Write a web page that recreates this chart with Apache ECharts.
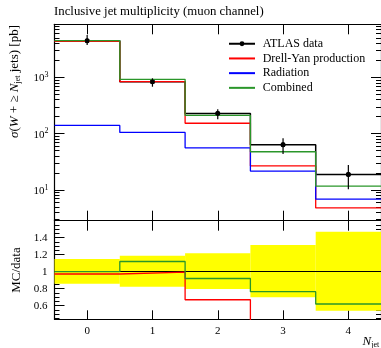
<!DOCTYPE html>
<html>
<head>
<meta charset="utf-8">
<script src="https://cdn.jsdelivr.net/npm/echarts@6/dist/echarts.min.js"></script>
<style>
html,body{margin:0;padding:0;background:#fff;}
#chart{width:381px;height:348px;}
</style>
</head>
<body>
<div id="chart"></div>
<script>
// ---- data ----
const nJet = [0, 1, 2, 3, 4];
const atlasData = [4450, 830, 228, 63.5, 18.9];
const atlasErrLow = [3750, 681, 180, 43.4, 10.3];
const atlasErrHigh = [5640, 960, 270, 82.6, 27.7];
const drellYan = [4340, 836, 153, 26.9, 4.8];
const radiation = [140, 105, 56, 21.7, 6.9];
const combined = [4480, 921, 211, 47.7, 11.7];

const ratioDrellYan = [0.973, 0.996, 0.67, 0.42, 0.25];
const ratioCombined = [1.0, 1.12, 0.92, 0.765, 0.62];
const bandLow = [0.859, 0.824, 0.796, 0.699, 0.541];
const bandHigh = [1.149, 1.188, 1.216, 1.314, 1.47];

const xTickLabels = [0, 1, 2, 3, 4];
const logMajorTicks = [10, 100, 1000];
const logMinorTicks = [3,4,5,6,7,8,9,20,30,40,50,60,70,80,90,200,300,400,500,600,700,800,900,2000,3000,4000,5000,6000,7000,8000];
const ratioMajorTicks = [0.6, 0.8, 1, 1.2, 1.4];
const ratioMinorTicks = [0.45,0.5,0.55,0.65,0.7,0.75,0.85,0.9,0.95,1.05,1.1,1.15,1.25,1.3,1.35,1.45,1.5,1.55];

const FONT = 'Liberation Serif';
const X_MIN = -0.5, X_MAX = 4.5;
const Y_MIN = 2.85, Y_MAX = 8730;
const R_MIN = 0.44, R_MAX = 1.6;

function stepPoints(vals, withCenters) {
  const pts = [];
  vals.forEach((v, i) => {
    const c = nJet[i];
    pts.push({value: [c - 0.5, v], symbol: 'none'});
    if (withCenters) pts.push({value: [c, v]});
    pts.push({value: [c + 0.5, v], symbol: 'none'});
  });
  return pts;
}

const chart = echarts.init(document.getElementById('chart'), null, {renderer: 'canvas'});

const grids = [
  {left: 54.5, right: -2.5, top: 24.3, height: 196.4},
  {left: 54.5, right: -2.5, top: 220.7, height: 98.6}
];

function xAxis(gridIndex, position, tickLen, showLabel) {
  return {
    type: 'value', gridIndex, position, min: X_MIN, max: X_MAX,
    axisLine: {show: true, onZero: false, lineStyle: {color: '#000', width: 1.2}},
    axisTick: {show: true, inside: true, length: tickLen, customValues: xTickLabels, lineStyle: {color: '#000', width: 1}},
    axisLabel: {show: showLabel, customValues: xTickLabels, margin: 6, color: '#000', fontFamily: FONT, fontSize: 11},
    splitLine: {show: false}
  };
}

function logAxis(position, ticks, tickLen, showLine, showLabel) {
  return {
    type: 'log', gridIndex: 0, position, min: Y_MIN, max: Y_MAX, logBase: 10,
    axisLine: {show: showLine, onZero: false, lineStyle: {color: '#000', width: 1.2}},
    axisTick: {show: true, inside: true, length: tickLen, customValues: ticks, lineStyle: {color: '#000', width: 1}},
    axisLabel: {
      show: showLabel, customValues: ticks, margin: 6,
      formatter: v => '{b|10}{s|' + Math.round(Math.log10(v)) + '}',
      rich: {
        b: {fontFamily: FONT, fontSize: 11, color: '#000', verticalAlign: 'bottom'},
        s: {fontFamily: FONT, fontSize: 8, color: '#000', verticalAlign: 'bottom', padding: [0, 0, 5, 0]}
      }
    },
    minorTick: {show: false},
    splitLine: {show: false}
  };
}

function ratioAxis(position, ticks, tickLen, showLine, showLabel, name) {
  return {
    type: 'value', gridIndex: 1, position, min: R_MIN, max: R_MAX,
    name: name || '', nameLocation: 'middle', nameGap: 29,
    nameTextStyle: {fontFamily: FONT, fontSize: 13, color: '#000'},
    axisLine: {show: showLine, onZero: false, lineStyle: {color: '#000', width: 1.2}},
    axisTick: {show: true, inside: true, length: tickLen, customValues: ticks, lineStyle: {color: '#000', width: 1}},
    axisLabel: {show: showLabel, customValues: ticks, margin: 7, color: '#000', fontFamily: FONT, fontSize: 11},
    splitLine: {show: false}
  };
}

const option = {
  animation: false,
  backgroundColor: '#fff',
  title: {
    text: 'Inclusive jet multiplicity (muon channel)',
    left: 54, top: 5, padding: 0,
    textStyle: {fontFamily: FONT, fontSize: 12.8, fontWeight: 'normal', color: '#000'}
  },
  legend: {
    orient: 'vertical', left: 228, top: 36.4, padding: 0,
    itemWidth: 26, itemHeight: 6, itemGap: 0,
    selectedMode: false,
    data: [
      {name: 'ATLAS data'},
      {name: 'Drell-Yan production', itemStyle: {opacity: 0}},
      {name: 'Radiation', itemStyle: {opacity: 0}},
      {name: 'Combined', itemStyle: {opacity: 0}}
    ],
    textStyle: {fontFamily: FONT, fontSize: 12, color: '#000', lineHeight: 14.7, padding: [0, 0, 0, 2.7]}
  },
  grid: grids,
  xAxis: [
    xAxis(0, 'bottom', 10, false),
    xAxis(0, 'top', 10, false),
    xAxis(1, 'bottom', 9, true),
    xAxis(1, 'top', 10, false)
  ],
  yAxis: [
    logAxis('left', logMajorTicks, 10, true, true),
    logAxis('left', logMinorTicks, 5, false, false),
    logAxis('right', logMajorTicks, 10, true, false),
    logAxis('right', logMinorTicks, 5, false, false),
    ratioAxis('left', ratioMajorTicks, 10, true, true, 'MC/data'),
    ratioAxis('left', ratioMinorTicks, 5, false, false),
    ratioAxis('right', ratioMajorTicks, 10, true, false),
    ratioAxis('right', ratioMinorTicks, 5, false, false)
  ],
  graphic: [
    {
      type: 'text', x: 15, y: 25, rotation: Math.PI / 2, z: 10,
      style: {
        text: '{i|σ}{n|(}{i|W}{n| + ≥ }{i|N}{sub|jet}{n| jets) [pb]}',
        align: 'right', verticalAlign: 'middle',
        rich: {
          n: {fontFamily: FONT, fontSize: 13, fill: '#000'},
          i: {fontFamily: FONT, fontSize: 13, fontStyle: 'italic', fill: '#000'},
          sub: {fontFamily: FONT, fontSize: 8, fill: '#000', padding: [5, 0, 0, 0]}
        }
      }
    },
    {
      type: 'text', x: 362.5, y: 342, z: 10,
      style: {
        text: '{i|N}{sub|jet}',
        align: 'left', verticalAlign: 'middle',
        rich: {
          i: {fontFamily: FONT, fontSize: 13, fontStyle: 'italic', fill: '#000'},
          sub: {fontFamily: FONT, fontSize: 8, fill: '#000', padding: [5, 0, 0, 0]}
        }
      }
    }
  ],
  series: [
    {
      name: 'ATLAS data', type: 'line', xAxisIndex: 0, yAxisIndex: 0,
      data: stepPoints(atlasData, true), symbol: 'circle', symbolSize: 5,
      itemStyle: {color: '#000'}, lineStyle: {color: '#000', width: 1.5}, z: 2
    },
    {
      name: 'Drell-Yan production', type: 'line', xAxisIndex: 0, yAxisIndex: 0,
      data: stepPoints(drellYan, false), symbol: 'none',
      itemStyle: {color: '#ff0000'}, lineStyle: {color: '#ff0000', width: 1.3}, z: 3
    },
    {
      name: 'Radiation', type: 'line', xAxisIndex: 0, yAxisIndex: 0,
      data: stepPoints(radiation, false), symbol: 'none',
      itemStyle: {color: '#0000ff'}, lineStyle: {color: '#0000ff', width: 1.3}, z: 3
    },
    {
      name: 'Combined', type: 'line', xAxisIndex: 0, yAxisIndex: 0,
      data: stepPoints(combined, false), symbol: 'none',
      itemStyle: {color: '#2a962a'}, lineStyle: {color: '#2a962a', width: 1.3}, z: 4
    },
    {
      name: 'data points', type: 'custom', xAxisIndex: 0, yAxisIndex: 0, z: 6,
      data: nJet.map((c, i) => [c, atlasData[i], atlasErrLow[i], atlasErrHigh[i]]),
      encode: {x: 0, y: 1},
      renderItem: (params, api) => {
        const p = api.coord([api.value(0), api.value(1)]);
        const lo = api.coord([api.value(0), api.value(2)]);
        const hi = api.coord([api.value(0), api.value(3)]);
        return {type: 'group', children: [
          {type: 'line', shape: {x1: p[0], y1: lo[1], x2: p[0], y2: hi[1]}, style: {stroke: '#000', lineWidth: 1.2}},
          {type: 'circle', shape: {cx: p[0], cy: p[1], r: 2.4}, style: {fill: '#000'}}
        ]};
      }
    },
    {
      name: 'band', type: 'custom', xAxisIndex: 2, yAxisIndex: 4, z: 1,
      data: nJet.map((c, i) => [c, bandLow[i], bandHigh[i]]),
      encode: {x: 0, y: [1, 2]},
      renderItem: (params, api) => {
        const a = api.coord([api.value(0) - 0.5, api.value(2)]);
        const b = api.coord([api.value(0) + 0.5, api.value(1)]);
        return {type: 'rect', shape: {x: a[0], y: a[1], width: b[0] - a[0], height: b[1] - a[1]}, style: {fill: '#ffff00'}};
      },
      markLine: {
        silent: true, symbol: ['none', 'none'], animation: false,
        label: {show: false},
        lineStyle: {color: '#000', width: 1, type: 'solid'},
        data: [{yAxis: 1}]
      }
    },
    {
      name: 'DY ratio', type: 'line', xAxisIndex: 2, yAxisIndex: 4,
      data: stepPoints(ratioDrellYan, false), symbol: 'none',
      lineStyle: {color: '#ff0000', width: 1.3}, z: 6
    },
    {
      name: 'Combined ratio', type: 'line', xAxisIndex: 2, yAxisIndex: 4,
      data: stepPoints(ratioCombined, false), symbol: 'none',
      lineStyle: {color: '#2a962a', width: 1.3}, z: 7
    }
  ]
};
chart.setOption(option);
</script>
</body>
</html>
